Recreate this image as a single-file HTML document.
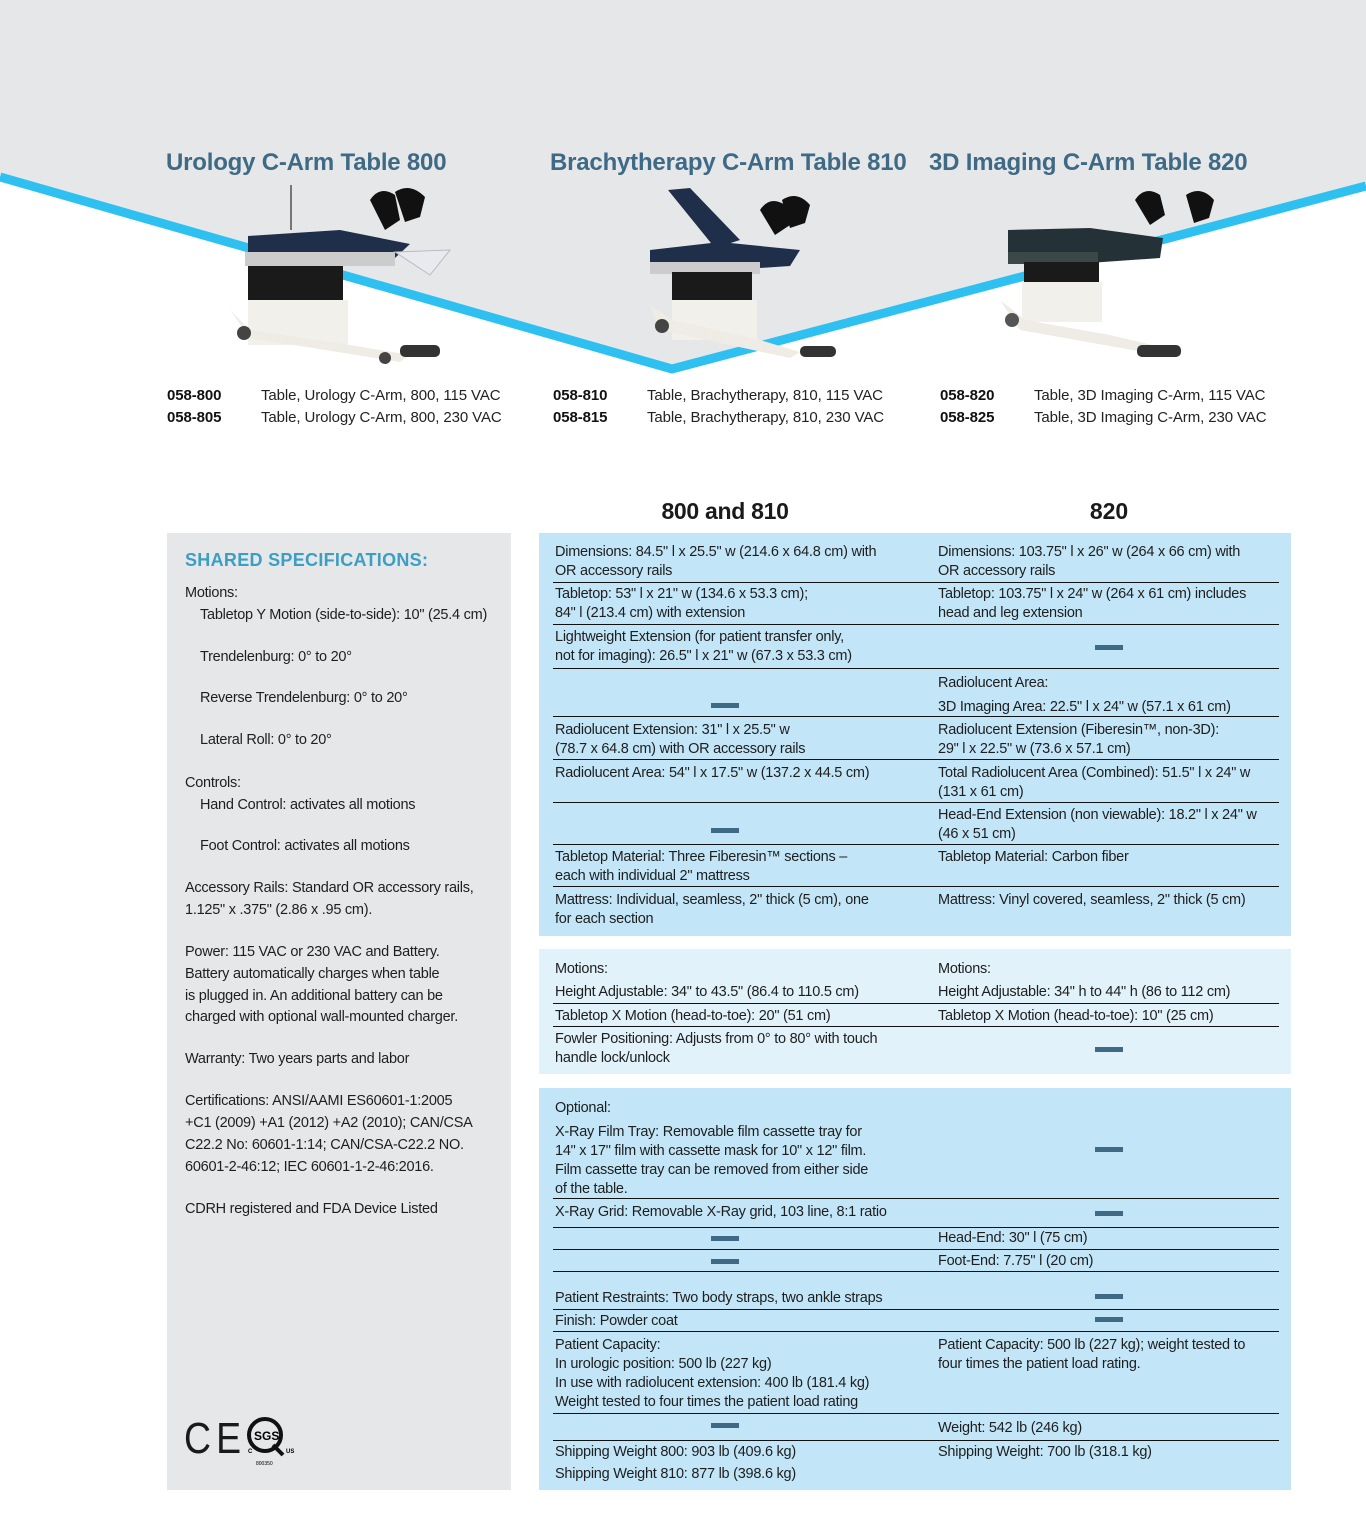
<!DOCTYPE html>
<html><head><meta charset="utf-8">
<style>
*{margin:0;padding:0;box-sizing:border-box}
body{width:1366px;height:1515px;position:relative;background:#fff;font-family:"Liberation Sans",sans-serif;color:#1a1a1a;overflow:hidden}
.a{position:absolute;white-space:nowrap}
.t{position:absolute;white-space:nowrap;font-size:14.5px;line-height:18px;letter-spacing:-0.25px;color:#1e1e1e;margin-top:1px}
.h{position:absolute;white-space:nowrap;font-size:24px;font-weight:bold;color:#3e6a86;letter-spacing:-0.2px;line-height:28px}
.c{position:absolute;white-space:nowrap;font-size:15px;font-weight:bold;line-height:18px;letter-spacing:-0.1px;color:#111;margin-top:1px}
.d{position:absolute;white-space:nowrap;font-size:15px;line-height:18px;letter-spacing:-0.1px;color:#222;margin-top:1px}
.ln{position:absolute;left:553px;width:726px;height:1.3px;background:#111}
.ds{position:absolute;width:28px;height:5px;background:#3e6a86}
</style></head><body>
<svg class="a" style="left:0;top:0" width="1366" height="400">
<polygon points="0,0 1366,0 1366,185 672,369 0,175" fill="#e6e7e9"/>
<polyline points="0,177 672,369 1366,186" fill="none" stroke="#2dc0f0" stroke-width="9"/>
<g>
<line x1="291" y1="185" x2="291" y2="230" stroke="#777" stroke-width="2"/>
<polygon points="248,236 340,230 410,244 395,258 300,262 248,252" fill="#1f2f4a"/>
<rect x="245" y="252" width="150" height="14" fill="#ccc"/>
<rect x="248" y="266" width="95" height="55" fill="#1a1a1a"/>
<rect x="248" y="300" width="100" height="45" fill="#f1f0ea"/>
<polygon points="230,310 250,330 350,345 410,355 400,362 250,338" fill="#eeece4"/>
<circle cx="244" cy="333" r="7" fill="#444"/><circle cx="385" cy="358" r="6" fill="#444"/>
<path d="M370,200 q10,-15 25,-5 l5,25 -15,10z M395,192 q15,-10 30,5 l-5,20 -15,5z" fill="#111"/>
<polygon points="395,252 450,250 430,275" fill="#e8eaf0" stroke="#bbb"/>
<rect x="400" y="345" width="40" height="12" rx="5" fill="#333"/>
</g>
<g>
<polygon points="668,190 690,188 740,240 715,248" fill="#1f2f4a"/>
<polygon points="650,250 720,242 800,250 790,266 700,272 650,262" fill="#1f2f4a"/>
<rect x="650" y="262" width="110" height="12" fill="#ccc"/>
<rect x="672" y="272" width="80" height="50" fill="#1a1a1a"/>
<rect x="672" y="300" width="85" height="40" fill="#f1f0ea"/>
<polygon points="650,305 672,320 760,340 800,352 790,358 660,330" fill="#eeece4"/>
<circle cx="662" cy="326" r="7" fill="#444"/>
<path d="M760,210 q10,-15 25,-5 l5,20 -15,10z M782,200 q15,-10 28,5 l-5,18 -15,5z" fill="#111"/>
<rect x="800" y="346" width="36" height="11" rx="5" fill="#333"/>
</g>
<g>
<polygon points="1008,230 1090,228 1163,238 1160,258 1060,265 1008,255" fill="#243238"/>
<rect x="1008" y="252" width="90" height="12" fill="#3c4848"/>
<rect x="1024" y="262" width="75" height="45" fill="#1a1a1a"/>
<rect x="1022" y="282" width="80" height="40" fill="#f1f0ea"/>
<polygon points="1000,300 1025,320 1110,335 1165,348 1160,355 1020,330" fill="#eeece4"/>
<circle cx="1012" cy="320" r="7" fill="#555"/>
<path d="M1135,200 q10,-15 25,-5 l5,20 -15,10z M1186,195 q15,-10 28,5 l-5,18 -15,5z" fill="#111"/>
<rect x="1137" y="345" width="44" height="12" rx="5" fill="#333"/>
</g>
</svg>

<div class="h" style="left:166px;top:149px">Urology C-Arm Table 800</div>
<div class="h" style="left:550px;top:149px">Brachytherapy C-Arm Table 810</div>
<div class="h" style="left:929px;top:149px">3D Imaging C-Arm Table 820</div>

<div class="c" style="left:167px;top:386px">058-800</div><div class="d" style="left:261px;top:386px">Table, Urology C-Arm, 800, 115 VAC</div>
<div class="c" style="left:167px;top:408px">058-805</div><div class="d" style="left:261px;top:408px">Table, Urology C-Arm, 800, 230 VAC</div>
<div class="c" style="left:553px;top:386px">058-810</div><div class="d" style="left:647px;top:386px">Table, Brachytherapy, 810, 115 VAC</div>
<div class="c" style="left:553px;top:408px">058-815</div><div class="d" style="left:647px;top:408px">Table, Brachytherapy, 810, 230 VAC</div>
<div class="c" style="left:940px;top:386px">058-820</div><div class="d" style="left:1034px;top:386px">Table, 3D Imaging C-Arm, 115 VAC</div>
<div class="c" style="left:940px;top:408px">058-825</div><div class="d" style="left:1034px;top:408px">Table, 3D Imaging C-Arm, 230 VAC</div>

<div class="a" style="left:625px;top:498px;width:200px;text-align:center;font-size:23px;font-weight:bold;letter-spacing:-0.3px">800 and 810</div>
<div class="a" style="left:1009px;top:498px;width:200px;text-align:center;font-size:23px;font-weight:bold">820</div>

<div class="a" style="left:167px;top:533px;width:344px;height:957px;background:#e6e7e9"></div>
<div class="a" style="left:185px;top:550px;font-size:18px;font-weight:bold;color:#3c9ec3;letter-spacing:0.3px">SHARED SPECIFICATIONS:</div>
<div class="t" style="left:185px;top:583px">Motions:</div>
<div class="t" style="left:200px;top:605px">Tabletop Y Motion (side-to-side): 10" (25.4 cm)</div>
<div class="t" style="left:200px;top:647px">Trendelenburg: 0° to 20°</div>
<div class="t" style="left:200px;top:688px">Reverse Trendelenburg: 0° to 20°</div>
<div class="t" style="left:200px;top:730px">Lateral Roll: 0° to 20°</div>
<div class="t" style="left:185px;top:773px">Controls:</div>
<div class="t" style="left:200px;top:795px">Hand Control: activates all motions</div>
<div class="t" style="left:200px;top:836px">Foot Control: activates all motions</div>
<div class="t" style="left:185px;top:878px">Accessory Rails: Standard OR accessory rails,</div>
<div class="t" style="left:185px;top:900px">1.125" x .375" (2.86 x .95 cm).</div>
<div class="t" style="left:185px;top:942px">Power: 115 VAC or 230 VAC and Battery.</div>
<div class="t" style="left:185px;top:964px">Battery automatically charges when table</div>
<div class="t" style="left:185px;top:986px">is plugged in. An additional battery can be</div>
<div class="t" style="left:185px;top:1007px">charged with optional wall-mounted charger.</div>
<div class="t" style="left:185px;top:1049px">Warranty: Two years parts and labor</div>
<div class="t" style="left:185px;top:1091px">Certifications: ANSI/AAMI ES60601-1:2005</div>
<div class="t" style="left:185px;top:1113px">+C1 (2009) +A1 (2012) +A2 (2010); CAN/CSA</div>
<div class="t" style="left:185px;top:1135px">C22.2 No: 60601-1:14; CAN/CSA-C22.2 NO.</div>
<div class="t" style="left:185px;top:1157px">60601-2-46:12; IEC 60601-1-2-46:2016.</div>
<div class="t" style="left:185px;top:1199px">CDRH registered and FDA Device Listed</div>
<div class="a" style="left:184px;top:1414px;font-size:44px;line-height:50px;letter-spacing:6px;transform:scaleX(0.85);transform-origin:left">CE</div>
<svg class="a" style="left:245px;top:1415px" width="52" height="52"><circle cx="20" cy="20" r="16" fill="none" stroke="#111" stroke-width="4"/><line x1="28" y1="30" x2="38" y2="40" stroke="#111" stroke-width="4"/><text x="9" y="25" font-size="12" font-weight="bold" font-family="Liberation Sans">SGS</text><text x="3" y="38" font-size="6" font-weight="bold">C</text><text x="41" y="38" font-size="6" font-weight="bold">US</text><text x="11" y="50" font-size="5">800350</text></svg>

<div class="a" style="left:539px;top:533px;width:752px;height:403px;background:#c2e6f8"></div>
<div class="a" style="left:539px;top:949px;width:752px;height:125px;background:#e1f2fb"></div>
<div class="a" style="left:539px;top:1088px;width:752px;height:402px;background:#c2e6f8"></div>

<div class="t" style="left:555px;top:542px">Dimensions: 84.5" l x 25.5" w (214.6 x 64.8 cm) with</div>
<div class="t" style="left:555px;top:561px">OR accessory rails</div>
<div class="t" style="left:938px;top:542px">Dimensions: 103.75" l x 26" w (264 x 66 cm) with</div>
<div class="t" style="left:938px;top:561px">OR accessory rails</div>
<div class="ln" style="top:582px"></div>
<div class="t" style="left:555px;top:584px">Tabletop: 53" l x 21" w (134.6 x 53.3 cm);</div>
<div class="t" style="left:555px;top:603px">84" l (213.4 cm) with extension</div>
<div class="t" style="left:938px;top:584px">Tabletop: 103.75" l x 24" w (264 x 61 cm) includes</div>
<div class="t" style="left:938px;top:603px">head and leg extension</div>
<div class="ln" style="top:624px"></div>
<div class="t" style="left:555px;top:627px">Lightweight Extension (for patient transfer only,</div>
<div class="t" style="left:555px;top:646px">not for imaging): 26.5" l x 21" w (67.3 x 53.3 cm)</div>
<div class="ds" style="left:1095px;top:645px"></div>
<div class="ln" style="top:668px"></div>
<div class="ds" style="left:711px;top:703px"></div>
<div class="t" style="left:938px;top:673px">Radiolucent Area:</div>
<div class="t" style="left:938px;top:697px">3D Imaging Area: 22.5" l x 24" w (57.1 x 61 cm)</div>
<div class="ln" style="top:716px"></div>
<div class="t" style="left:555px;top:720px">Radiolucent Extension: 31" l x 25.5" w</div>
<div class="t" style="left:555px;top:739px">(78.7 x 64.8 cm) with OR accessory rails</div>
<div class="t" style="left:938px;top:720px">Radiolucent Extension (Fiberesin™, non-3D):</div>
<div class="t" style="left:938px;top:739px">29" l x 22.5" w (73.6 x 57.1 cm)</div>
<div class="ln" style="top:759px"></div>
<div class="t" style="left:555px;top:763px">Radiolucent Area: 54" l x 17.5" w (137.2 x 44.5 cm)</div>
<div class="t" style="left:938px;top:763px">Total Radiolucent Area (Combined): 51.5" l x 24" w</div>
<div class="t" style="left:938px;top:782px">(131 x 61 cm)</div>
<div class="ln" style="top:802px"></div>
<div class="ds" style="left:711px;top:828px"></div>
<div class="t" style="left:938px;top:805px">Head-End Extension (non viewable): 18.2" l x 24" w</div>
<div class="t" style="left:938px;top:824px">(46 x 51 cm)</div>
<div class="ln" style="top:844px"></div>
<div class="t" style="left:555px;top:847px">Tabletop Material: Three Fiberesin™ sections –</div>
<div class="t" style="left:555px;top:866px">each with individual 2" mattress</div>
<div class="t" style="left:938px;top:847px">Tabletop Material: Carbon fiber</div>
<div class="ln" style="top:886px"></div>
<div class="t" style="left:555px;top:890px">Mattress: Individual, seamless, 2" thick (5 cm), one</div>
<div class="t" style="left:555px;top:909px">for each section</div>
<div class="t" style="left:938px;top:890px">Mattress: Vinyl covered, seamless, 2" thick (5 cm)</div>

<div class="t" style="left:555px;top:959px">Motions:</div>
<div class="t" style="left:555px;top:982px">Height Adjustable: 34" to 43.5" (86.4 to 110.5 cm)</div>
<div class="t" style="left:938px;top:959px">Motions:</div>
<div class="t" style="left:938px;top:982px">Height Adjustable: 34" h to 44" h (86 to 112 cm)</div>
<div class="ln" style="top:1003px"></div>
<div class="t" style="left:555px;top:1006px">Tabletop X Motion (head-to-toe): 20" (51 cm)</div>
<div class="t" style="left:938px;top:1006px">Tabletop X Motion (head-to-toe): 10" (25 cm)</div>
<div class="ln" style="top:1026px"></div>
<div class="t" style="left:555px;top:1029px">Fowler Positioning: Adjusts from 0° to 80° with touch</div>
<div class="t" style="left:555px;top:1048px">handle lock/unlock</div>
<div class="ds" style="left:1095px;top:1047px"></div>

<div class="t" style="left:555px;top:1098px">Optional:</div>
<div class="t" style="left:555px;top:1122px">X-Ray Film Tray: Removable film cassette tray for</div>
<div class="t" style="left:555px;top:1141px">14" x 17" film with cassette mask for 10" x 12" film.</div>
<div class="t" style="left:555px;top:1160px">Film cassette tray can be removed from either side</div>
<div class="t" style="left:555px;top:1179px">of the table.</div>
<div class="ds" style="left:1095px;top:1147px"></div>
<div class="ln" style="top:1198px"></div>
<div class="t" style="left:555px;top:1202px">X-Ray Grid: Removable X-Ray grid, 103 line, 8:1 ratio</div>
<div class="ds" style="left:1095px;top:1211px"></div>
<div class="ln" style="top:1227px"></div>
<div class="ds" style="left:711px;top:1236px"></div>
<div class="t" style="left:938px;top:1228px">Head-End: 30" l (75 cm)</div>
<div class="ln" style="top:1249px"></div>
<div class="ds" style="left:711px;top:1259px"></div>
<div class="t" style="left:938px;top:1251px">Foot-End: 7.75" l (20 cm)</div>
<div class="ln" style="top:1271px"></div>
<div class="t" style="left:555px;top:1288px">Patient Restraints: Two body straps, two ankle straps</div>
<div class="ds" style="left:1095px;top:1294px"></div>
<div class="ln" style="top:1309px"></div>
<div class="t" style="left:555px;top:1311px">Finish: Powder coat</div>
<div class="ds" style="left:1095px;top:1317px"></div>
<div class="ln" style="top:1331px"></div>
<div class="t" style="left:555px;top:1335px">Patient Capacity:</div>
<div class="t" style="left:555px;top:1354px">In urologic position: 500 lb (227 kg)</div>
<div class="t" style="left:555px;top:1373px">In use with radiolucent extension: 400 lb (181.4 kg)</div>
<div class="t" style="left:555px;top:1392px">Weight tested to four times the patient load rating</div>
<div class="t" style="left:938px;top:1335px">Patient Capacity: 500 lb (227 kg); weight tested to</div>
<div class="t" style="left:938px;top:1354px">four times the patient load rating.</div>
<div class="ln" style="top:1413px"></div>
<div class="ds" style="left:711px;top:1423px"></div>
<div class="t" style="left:938px;top:1418px">Weight: 542 lb (246 kg)</div>
<div class="ln" style="top:1440px"></div>
<div class="t" style="left:555px;top:1442px">Shipping Weight 800: 903 lb (409.6 kg)</div>
<div class="t" style="left:555px;top:1464px">Shipping Weight 810: 877 lb (398.6 kg)</div>
<div class="t" style="left:938px;top:1442px">Shipping Weight: 700 lb (318.1 kg)</div>
</body></html>
